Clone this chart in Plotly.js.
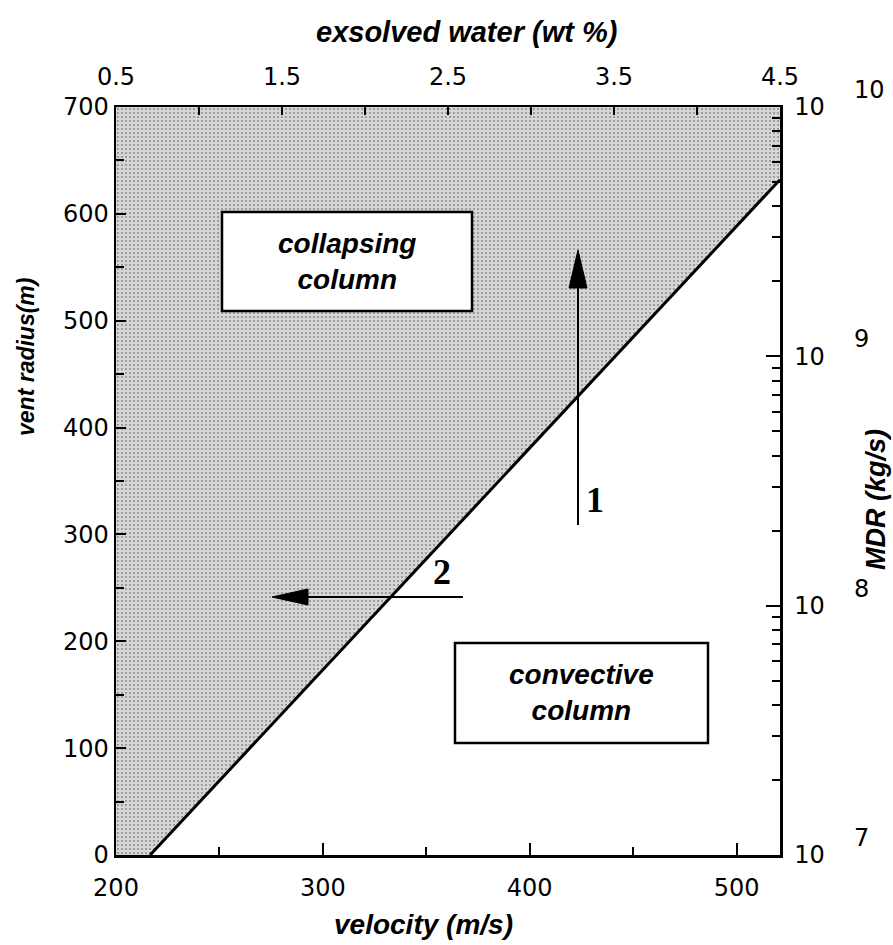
<!DOCTYPE html>
<html><head><meta charset="utf-8">
<script src="https://cdn.plot.ly/plotly-3.0.1.min.js"></script>
<style>html,body{margin:0;padding:0;background:#fff}#chart{width:893px;height:945px}</style>
</head><body><div id="chart"></div>
<script>
// ---- data ----
const velocityRange = [200, 521];
const radiusRange = [0, 700];
const waterRange = [0.5, 4.5];
const mdrLogRange = [7, 10];

const mdrTickValues = [1e7, 1e8, 1e9, 1e10];
const mdrTickText = ['10', '10', '10', '10'];
const mdrExponents = ['7', '8', '9', '10'];

// regime boundary (convective / collapsing)
const boundaryVelocity = [216.5, 521];
const boundaryRadius = [0, 632];

const regionLabels = ['collapsing<br>column', 'convective<br>column'];
const arrowLabels = ['1', '2'];

// ---- build ----
const shadeX = [velocityRange[0]].concat(boundaryVelocity, [velocityRange[1], velocityRange[0]]);
const shadeY = [radiusRange[0]].concat(boundaryRadius, [radiusRange[1], radiusRange[1]]);

const traces = [
  {x: shadeX, y: shadeY, mode: 'none', fill: 'toself', fillcolor: '#cdcdcd',
   fillpattern: {shape: '.', bgcolor: '#d6d6d6', fgcolor: '#909090', size: 4, solidity: 0.22},
   hoverinfo: 'skip', showlegend: false},
  {x: boundaryVelocity, y: boundaryRadius, mode: 'lines', line: {color: '#000', width: 3},
   hoverinfo: 'skip', showlegend: false},
  {x: waterRange, y: [Math.pow(10, mdrLogRange[0]), Math.pow(10, mdrLogRange[1])], xaxis: 'x2', yaxis: 'y2',
   mode: 'none', hoverinfo: 'skip', showlegend: false}
];

const tickFont = {family: 'DejaVu Sans', size: 24, color: '#000'};
const titleFont = {family: 'Liberation Sans, Arial', size: 29, color: '#000'};
const base = {showline: true, linecolor: '#000', linewidth: 2.5, showgrid: false, zeroline: false,
  ticks: 'inside', tickcolor: '#000', tickwidth: 2, tickfont: tickFont, fixedrange: true};

const L = 116, R = 780, T = 107, B = 855;
const px = v => (v - L) / (R - L);
const py = v => (B - v) / (B - T);

function label(text, x, y, font, extra) {
  return Object.assign({text: text, xref: 'paper', yref: 'paper', x: px(x), y: py(y),
    xanchor: 'center', yanchor: 'middle', showarrow: false, font: font}, extra || {});
}

const boxFont = {family: 'Liberation Sans, Arial', size: 28, color: '#000'};
const numFont = {family: 'Liberation Serif, Times New Roman', size: 36, color: '#000'};

const annotations = [
  label('<b><i>exsolved water (wt %)</i></b>', 466, 32, titleFont),
  label('<b><i>velocity (m/s)</i></b>', 423, 924, {family: 'Liberation Sans, Arial', size: 28, color: '#000'}),
  label('<b><i>vent radius(m)</i></b>', 26, 357, {family: 'Liberation Sans Narrow, Liberation Sans, Arial', size: 23, color: '#000'}, {textangle: -90}),
  label('<b><i>MDR (kg/s)</i></b>', 876, 500, {family: 'Liberation Sans, Arial', size: 27, color: '#000'}, {textangle: -90}),
  label('<b><i>' + regionLabels[0] + '</i></b>', 347, 261, boxFont),
  label('<b><i>' + regionLabels[1] + '</i></b>', 581, 692, boxFont),
  label('<b>' + arrowLabels[0] + '</b>', 595, 500, numFont),
  label('<b>' + arrowLabels[1] + '</b>', 442, 572, numFont)
];
mdrExponents.forEach((e, i) => {
  annotations.push({text: e, xref: 'paper', yref: 'y2', x: px(852), xanchor: 'left', yanchor: 'middle',
    y: Math.log10(mdrTickValues[i]), yshift: 17, showarrow: false, font: tickFont});
});

const shapes = [
  {type: 'rect', xref: 'paper', yref: 'paper', x0: px(222), x1: px(472), y0: py(311), y1: py(212),
   fillcolor: '#fff', line: {color: '#000', width: 2.5}},
  {type: 'rect', xref: 'paper', yref: 'paper', x0: px(455), x1: px(708), y0: py(743), y1: py(643),
   fillcolor: '#fff', line: {color: '#000', width: 2.5}},
  // arrow 1 (vertical)
  {type: 'line', xref: 'paper', yref: 'paper', x0: px(578), x1: px(578), y0: py(525), y1: py(280), line: {color: '#000', width: 2}},
  {type: 'path', xref: 'paper', yref: 'paper', xsizemode: 'pixel', ysizemode: 'pixel', xanchor: px(578), yanchor: py(250),
   path: 'M0,0 L-9,-38 L9,-38 Z', fillcolor: '#000', line: {color: '#000', width: 1}},
  // arrow 2 (horizontal)
  {type: 'line', xref: 'paper', yref: 'paper', x0: px(463), x1: px(300), y0: py(597), y1: py(597), line: {color: '#000', width: 2}},
  {type: 'path', xref: 'paper', yref: 'paper', xsizemode: 'pixel', ysizemode: 'pixel', xanchor: px(272), yanchor: py(597),
   path: 'M0,0 L36,8 L36,-8 Z', fillcolor: '#000', line: {color: '#000', width: 1}}
];

const layout = {
  width: 893, height: 945, paper_bgcolor: '#fff', plot_bgcolor: '#fff',
  margin: {l: L, r: 893 - R, t: T, b: 945 - B, pad: 0},
  showlegend: false,
  xaxis: Object.assign({}, base, {range: velocityRange, tick0: 200, dtick: 100, ticklen: 12,
    ticklabelstandoff: 10, minor: {dtick: 50, ticks: 'inside', ticklen: 8, tickwidth: 2, tickcolor: '#000'}}),
  xaxis2: Object.assign({}, base, {range: waterRange, overlaying: 'x', side: 'top', anchor: 'y', tick0: 0.5, dtick: 1,
    ticklen: 8, ticklabelstandoff: 10, minor: {dtick: 0.5, ticks: 'inside', ticklen: 8, tickwidth: 2, tickcolor: '#000'}}),
  yaxis: Object.assign({}, base, {range: radiusRange, tick0: 0, dtick: 100, ticklen: 10,
    minor: {dtick: 50, ticks: 'inside', ticklen: 8, tickwidth: 2, tickcolor: '#000'}}),
  yaxis2: Object.assign({}, base, {type: 'log', range: mdrLogRange, overlaying: 'y', side: 'right', anchor: 'x',
    tickmode: 'array', tickvals: mdrTickValues, ticktext: mdrTickText, ticklen: 14, ticklabelstandoff: 7,
    minor: {dtick: 'D1', ticks: 'inside', ticklen: 8, tickwidth: 2, tickcolor: '#000'}}),
  annotations: annotations,
  shapes: shapes
};

Plotly.newPlot('chart', traces, layout, {staticPlot: true, displayModeBar: false});
</script></body></html>
